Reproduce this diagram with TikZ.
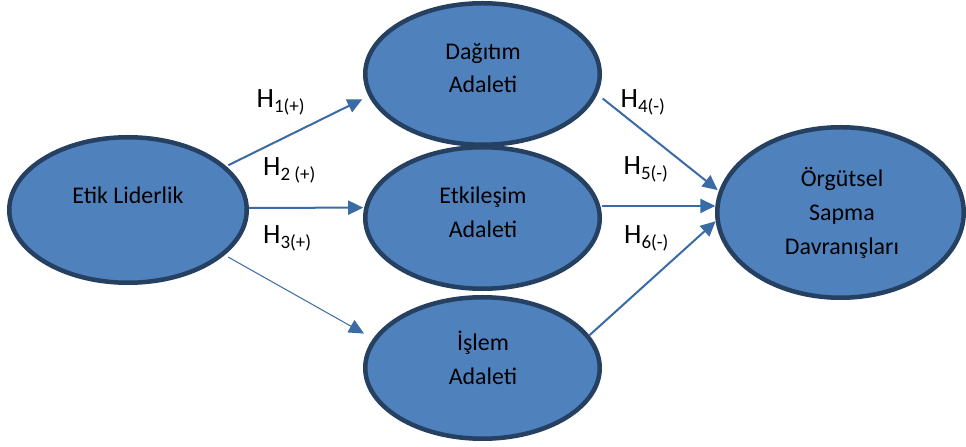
\documentclass[tikz,border=0pt]{standalone}
\usepackage{fontspec}
\setmainfont{Carlito}
\usetikzlibrary{shapes.geometric,arrows.meta}
\definecolor{ellfill}{HTML}{4F81BD}
\definecolor{elldraw}{HTML}{254061}
\definecolor{arrcol}{HTML}{3A6BA5}
\newcommand\hsub[1]{\raisebox{-4.5bp}{\fontsize{19}{19}\selectfont #1}}
\begin{document}
\begin{tikzpicture}[x=1bp,y=-1bp,
  ellbox/.style={ellipse, draw=elldraw, fill=ellfill, line width=4.5bp, inner sep=0pt},
  etext/.style={font=\fontsize{24}{34}\selectfont, align=center, inner sep=0pt, text=black},
  hlab/.style={font=\fontsize{28}{28}\selectfont, inner sep=0pt, anchor=base west, text=black},
  conn/.style={draw=arrcol, line width=2bp, -{Triangle[length=15bp,width=14bp]}, arrcol},
  thinconn/.style={conn, line width=1bp}
]
\useasboundingbox[fill=white] (0,0) rectangle (966,447);

% ellipses
\node[ellbox, minimum width=237.5bp, minimum height=145.5bp] (etik) at (128,210) {};
\node[ellbox, minimum width=234.5bp, minimum height=141.5bp] (dag) at (482.5,74) {};
\node[ellbox, minimum width=234.5bp, minimum height=141.5bp] (etk) at (482.5,218) {};
\node[ellbox, minimum width=234.5bp, minimum height=141.5bp] (isl) at (482.5,368) {};
\node[ellbox, minimum width=246.5bp, minimum height=170.5bp] (org) at (840.5,212.5) {};

% texts
\node[etext] (etikT) at (128,195) {Etik Liderlik};
\node[etext] (dagT) at (483,68) {Dağıtım\\Adaleti};
\node[etext] (etkT) at (483,212) {Etkileşim\\Adaleti};
\node[etext] (islT) at (483,358) {İşlem\\Adaleti};
\node[etext] (orgT) at (842,213) {Örgütsel\\Sapma\\Davranışları};

% connectors
\draw[conn, shorten <=2.4bp, shorten >=7bp] (etik.24.9) -- (dag.191.5);
\draw[conn, shorten >=1bp] (etik.1) -- (etk.175.2);
\draw[thinconn, shorten <=4bp, shorten >=10.4bp] (etik.-25.7) -- (isl.165.8);
\draw[conn, shorten <=6.9bp, shorten >=1.5bp] (dag.-10.8) -- (org.170.5);
\draw[conn] (org.177.9 -| etk.east) -- (org.177.9);
\draw[conn] (isl.17.2) -- (org.184.8);

% labels
\node[hlab] (h1) at (256.5,108) {H\hsub{1(+)}};
\node[hlab] (h2) at (263,176) {H\hsub{2 (+)}};
\node[hlab] (h3) at (263,244) {H\hsub{3(+)}};
\node[hlab] (h4) at (620.5,108) {H\hsub{4(-)}};
\node[hlab] (h5) at (623.5,175) {H\hsub{5(-)}};
\node[hlab] (h6) at (624,244) {H\hsub{6(-)}};
\end{tikzpicture}
\end{document}
